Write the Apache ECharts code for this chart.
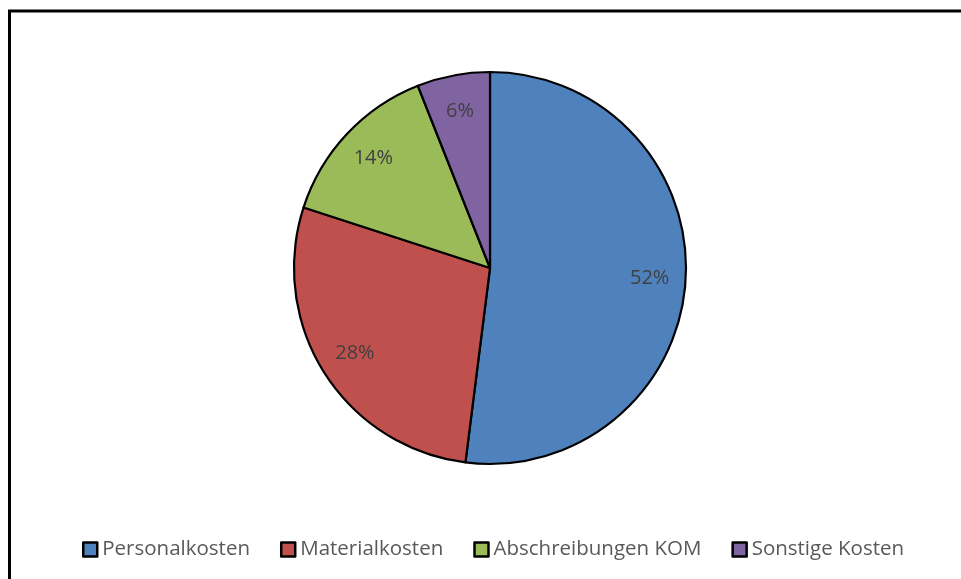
<!DOCTYPE html>
<html>
<head>
<meta charset="utf-8">
<script src="https://cdn.jsdelivr.net/npm/echarts@6/dist/echarts.min.js"></script>
<style>
  html, body { margin: 0; padding: 0; background: #fff; }
  #chart { width: 961px; height: 579px; }
</style>
</head>
<body>
<div id="chart"></div>
<script>
// Cost breakdown (percent shares)
const categories = ['Personalkosten', 'Materialkosten', 'Abschreibungen KOM', 'Sonstige Kosten'];
const shares = [52, 28, 14, 6];
const colors = ['#4F81BD', '#C0504D', '#9BBB59', '#8064A2'];

const FONT = '"Open Sans", sans-serif';

const pieData = categories.map((name, i) => ({
  name,
  value: shares[i],
  itemStyle: { color: colors[i] }
}));

const chart = echarts.init(document.getElementById('chart'), null, { renderer: 'canvas' });

chart.setOption({
  backgroundColor: '#ffffff',
  animation: false,
  graphic: [{
    type: 'rect',
    shape: { x: 9.5, y: 11, width: 1200, height: 1200 },
    style: { fill: 'none', stroke: '#000', lineWidth: 3 },
    silent: true,
    z: 100
  }],
  legend: {
    data: categories,
    top: 534,
    left: 77,
    itemWidth: 14,
    itemHeight: 14,
    itemGap: 30,
    icon: 'rect',
    itemStyle: { borderColor: '#000', borderWidth: 2.5 },
    textStyle: { fontFamily: FONT, fontSize: 20.5, color: '#595959' }
  },
  series: [
    {
      type: 'pie',
      center: [490, 268],
      radius: [0, 196],
      startAngle: 90,
      clockwise: true,
      data: pieData,
      itemStyle: { borderColor: '#000', borderWidth: 2.2 },
      label: { show: false },
      labelLine: { show: false },
      emphasis: { disabled: true }
    },
    {
      // label ring: carries the percentage labels at ~80% of the radius
      type: 'pie',
      center: [490, 268],
      radius: [118, 196],
      startAngle: 90,
      clockwise: true,
      silent: true,
      data: categories.map((name, i) => ({ name, value: shares[i] })),
      itemStyle: { color: 'transparent', borderWidth: 0 },
      label: {
        show: true,
        position: 'inside',
        formatter: '{d}%',
        fontFamily: FONT,
        fontSize: 20,
        color: '#404040'
      },
      labelLine: { show: false },
      emphasis: { disabled: true },
      z: 3
    }
  ]
});
</script>
</body>
</html>
